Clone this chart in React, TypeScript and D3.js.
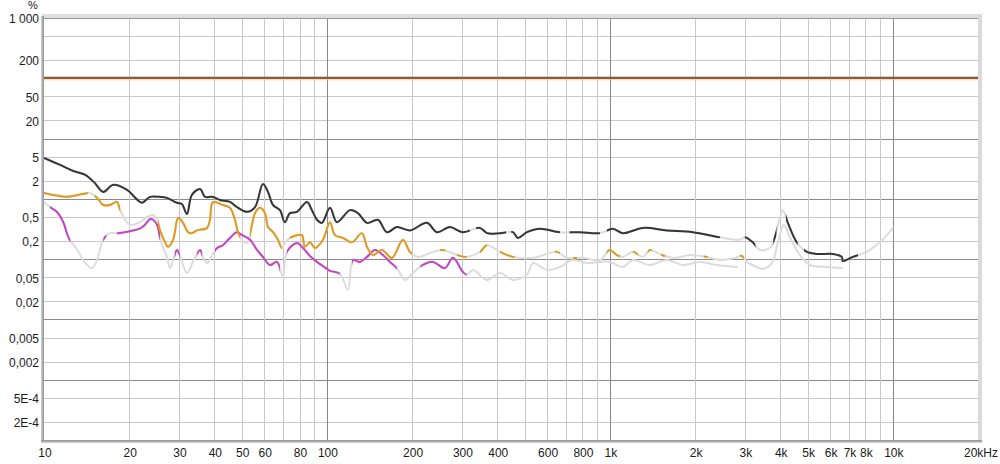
import * as React from "react";
import * as d3 from "d3";

// THD (black)
const thdFreq = [10, 11.4, 12.7, 14.0, 15.1, 16.2, 17.5, 19.65, 21.3, 22.2, 23.7, 25.7, 27.2, 29.5, 30.7, 32.0, 33.3, 35.6, 37.1, 39.3, 41.9, 45.4, 48.1, 52.2, 55.7, 59.4, 61.9, 64.5, 68.2, 71.0, 74.0, 78.4, 85.0, 88.5, 92.2, 96.0, 102.5, 108.5, 120.6, 128.7, 138.5, 151.4, 162.9, 176.7, 196.5, 225.6, 244.7, 272, 302, 347, 368, 409, 454, 473, 509, 566, 666, 783, 922, 1025, 1111, 1308, 1590, 1965, 2447, 2880, 2999, 3200, 3388, 3676, 3828, 4087, 4256, 4578, 4968, 5388, 6137, 6604, 6658, 7222, 8091, 8995, 9524, 10000];
const thdPct = [4.77, 3.65, 2.9, 2.49, 1.84, 1.3, 1.7, 1.41, 0.98, 0.86, 1.08, 1.08, 1.04, 0.86, 0.82, 0.56, 1.16, 1.46, 1.08, 1.08, 0.96, 0.89, 0.73, 0.61, 0.73, 1.77, 1.3, 0.79, 0.65, 0.41, 0.58, 0.61, 0.89, 0.65, 0.45, 0.4, 0.71, 0.41, 0.65, 0.58, 0.4, 0.45, 0.28, 0.34, 0.3, 0.4, 0.28, 0.34, 0.28, 0.33, 0.27, 0.27, 0.28, 0.225, 0.28, 0.32, 0.28, 0.28, 0.27, 0.32, 0.27, 0.33, 0.3, 0.28, 0.23, 0.21, 0.23, 0.19, 0.142, 0.153, 0.23, 0.65, 0.4, 0.19, 0.132, 0.122, 0.122, 0.109, 0.093, 0.109, 0.132, 0.19, 0.25, 0.33];
const thdOn = [[10, 320], [337, 430], [448, 666], [720, 922], [976, 2447], [2999, 3270], [3780, 3880], [4190, 4610], [4850, 7530]];

// 2nd harmonic (orange)
const h2Freq = [10, 10.8, 12.1, 13.7, 14.5, 15.4, 16.2, 17.1, 18.1, 18.6, 20.1, 21.8, 23.1, 24.3, 25.1, 25.7, 26.8, 27.4, 28.6, 29.8, 31.0, 32.3, 33.3, 34.7, 37.7, 38.6, 39.3, 40.2, 42.9, 45.4, 47.3, 48.5, 50.1, 52.2, 54.3, 55.7, 58.0, 60.4, 61.9, 64.5, 67.1, 69.3, 71.0, 74.0, 78.4, 81.6, 83.6, 87.1, 90.7, 96.8, 102.5, 106.7, 113.9, 122.6, 132.9, 138.5, 145.4, 156.4, 169.7, 185.6, 196.5, 209.7, 236.9, 257, 288, 312, 347, 368, 409, 454, 535, 650, 705, 803, 922, 1000, 1059, 1111, 1206, 1308, 1385, 1527, 1697, 1918, 2202, 2447, 2765, 2927, 3049, 3307, 3472, 3736, 3925, 4120, 4325, 4692, 5089, 5846, 6658];
const h2Pct = [1.25, 1.16, 1.08, 1.2, 1.25, 1.04, 0.79, 0.79, 0.89, 0.65, 0.37, 0.41, 0.5, 0.54, 0.45, 0.3, 0.19, 0.16, 0.21, 0.48, 0.4, 0.28, 0.27, 0.3, 0.33, 0.45, 0.86, 0.89, 0.79, 0.71, 0.45, 0.28, 0.21, 0.186, 0.37, 0.58, 0.71, 0.58, 0.34, 0.28, 0.21, 0.153, 0.186, 0.225, 0.25, 0.25, 0.16, 0.19, 0.153, 0.21, 0.41, 0.25, 0.225, 0.19, 0.27, 0.16, 0.117, 0.142, 0.105, 0.21, 0.132, 0.109, 0.132, 0.142, 0.117, 0.109, 0.132, 0.17, 0.132, 0.109, 0.105, 0.132, 0.105, 0.105, 0.097, 0.142, 0.117, 0.109, 0.132, 0.109, 0.142, 0.117, 0.105, 0.117, 0.109, 0.097, 0.105, 0.113, 0.09, 0.074, 0.069, 0.086, 0.19, 0.37, 0.23, 0.117, 0.08, 0.074, 0.071];
const h2On = [[10, 14.3], [15.1, 18.6], [25.3, 49.3], [53.5, 69.3], [74, 200], [251, 262], [288, 312], [347, 368], [409, 461], [640, 666], [740, 766], [976, 1085], [1206, 1259], [1361, 1408], [1518, 1568], [2146, 2218], [2880, 2976]];

// 3rd harmonic (magenta)
const h3Freq = [10, 10.5, 11.1, 11.7, 12.2, 13.1, 14.0, 14.8, 15.4, 16.0, 16.4, 17.1, 18.3, 20.1, 21.8, 22.7, 23.7, 24.3, 25.1, 25.7, 26.3, 27.2, 27.9, 28.6, 29.5, 30.2, 32.0, 33.6, 35.6, 36.5, 37.7, 39.3, 40.9, 42.9, 45.4, 48.1, 50.1, 53.5, 56.6, 59.4, 62.9, 66.6, 69.9, 72.2, 78.4, 82.3, 87.1, 92.2, 96.8, 102.5, 111.2, 118.6, 123.6, 130.8, 138.5, 147.8, 157.7, 167.0, 176.7, 188.7, 201.3, 218.4, 236.9, 261.2, 278.8, 302.4, 312.4, 328.1, 367.6, 408.7, 454.3, 508.8, 534.6, 598.9, 665.8, 740, 829.3, 921.9, 1000, 1111, 1206, 1385, 1590, 1811, 2080, 2388, 2834];
const h3Pct = [0.89, 0.73, 0.61, 0.41, 0.23, 0.142, 0.086, 0.071, 0.097, 0.186, 0.23, 0.27, 0.27, 0.29, 0.32, 0.37, 0.46, 0.45, 0.37, 0.23, 0.16, 0.109, 0.071, 0.097, 0.142, 0.117, 0.059, 0.09, 0.142, 0.109, 0.086, 0.117, 0.153, 0.17, 0.225, 0.28, 0.25, 0.21, 0.142, 0.109, 0.08, 0.09, 0.051, 0.132, 0.186, 0.153, 0.113, 0.09, 0.077, 0.064, 0.057, 0.031, 0.097, 0.09, 0.109, 0.142, 0.117, 0.09, 0.071, 0.045, 0.059, 0.08, 0.09, 0.071, 0.105, 0.061, 0.055, 0.066, 0.045, 0.059, 0.045, 0.055, 0.086, 0.066, 0.074, 0.097, 0.086, 0.09, 0.09, 0.074, 0.097, 0.08, 0.097, 0.08, 0.09, 0.08, 0.074];
const h3On = [[10.5, 12.4], [16.2, 16.6], [18.1, 25.7], [29, 30.2], [34.7, 36.2], [40.2, 68.2], [72.2, 111], [122.6, 176.7], [214, 312]];

// fundamental reference level
const refLevel = 100;

const yTickValues = [1000, 200, 50, 20, 5, 2, 0.5, 0.2, 0.05, 0.02, 0.005, 0.002, 5e-4, 2e-4];
const yTickLabels = ["1 000", "200", "50", "20", "5", "2", "0,5", "0,2", "0,05", "0,02", "0,005", "0,002", "5E-4", "2E-4"];
const xTickValues = [10, 20, 30, 40, 50, 60, 80, 100, 200, 300, 400, 600, 800, 1000, 2000, 3000, 4000, 5000, 6000, 7000, 8000, 10000, 20000];
const xTickLabels = ["10", "20", "30", "40", "50", "60", "80", "100", "200", "300", "400", "600", "800", "1k", "2k", "3k", "4k", "5k", "6k", "7k", "8k", "10k", "20kHz"];

const series = [
  { id: "h3", freq: h3Freq, pct: h3Pct, on: h3On, color: "#c444c4" },
  { id: "h2", freq: h2Freq, pct: h2Pct, on: h2On, color: "#e29a1c" },
  { id: "thd", freq: thdFreq, pct: thdPct, on: thdOn, color: "#363636" },
];

export default function App() {
  const width = 1000;
  const height = 464;
  const left = 44;
  const right = 978;
  const top = 18;
  const bottom = 440;

  const x = d3.scaleLog().domain([10, 20000]).range([left, right]);
  const y = d3.scaleLog().domain([1e-4, 1000]).range([bottom, top]);

  const yGrid: { v: number; major: boolean }[] = [];
  for (let e = -4; e <= 3; e++) {
    [1, 2, 5].forEach((k) => {
      const v = k * Math.pow(10, e);
      if (v > 1e-4 * 1.001 && v < 1000 * 0.999) yGrid.push({ v, major: k === 1 });
    });
  }
  const xGrid: { v: number; major: boolean }[] = [];
  for (let e = 1; e <= 4; e++) {
    for (let k = 1; k <= 9; k++) {
      const v = k * Math.pow(10, e);
      if (v > 10 && v < 20000) xGrid.push({ v, major: k === 1 });
    }
  }

  const line = d3
    .line<[number, number]>()
    .x((d) => x(d[0]))
    .y((d) => y(d[1]))
    .curve(d3.curveCatmullRom.alpha(0.5));

  const font = "'Liberation Sans', Arial, sans-serif";

  return (
    <svg
      width={width}
      height={height}
      style={{ position: "absolute", left: 0, top: 0, background: "#fff" }}
    >
      <defs>
        <clipPath id="plot">
          <rect x={left} y={top} width={right - left} height={bottom - top} />
        </clipPath>
        {series.map((s) => (
          <clipPath id={`on-${s.id}`} key={s.id}>
            {s.on.map(([a, b], i) => (
              <rect key={i} x={x(a)} y={top} width={x(b) - x(a)} height={bottom - top} />
            ))}
          </clipPath>
        ))}
        <linearGradient id="leftEdge" x1="0" x2="1" y1="0" y2="0">
          <stop offset="0" stopColor="#d6d6d6" />
          <stop offset="1" stopColor="#8e8e8e" />
        </linearGradient>
        <linearGradient id="bottomEdge" x1="0" x2="0" y1="0" y2="1">
          <stop offset="0" stopColor="#8e8e8e" />
          <stop offset="1" stopColor="#d6d6d6" />
        </linearGradient>
      </defs>

      {/* frame */}
      <rect x={left - 2} y={top - 4} width={right - left + 6} height={4} fill="#dedede" />
      <rect x={right} y={top - 4} width={4} height={bottom - top + 6} fill="#dadada" />
      <rect x={left} y={top} width={right - left} height={bottom - top} fill="#fff" />

      {/* grid */}
      <g shapeRendering="crispEdges">
        {yGrid.map((g, i) => (
          <line
            key={`y${i}`}
            x1={left}
            x2={right}
            y1={Math.round(y(g.v)) + 0.5}
            y2={Math.round(y(g.v)) + 0.5}
            stroke={g.major ? "#8a8a8a" : "#c8c8c8"}
          />
        ))}
        {xGrid.map((g, i) => (
          <line
            key={`x${i}`}
            y1={top}
            y2={bottom}
            x1={Math.round(x(g.v)) + 0.5}
            x2={Math.round(x(g.v)) + 0.5}
            stroke={g.major ? "#8a8a8a" : "#c8c8c8"}
          />
        ))}
        <line x1={left} x2={right} y1={top + 0.5} y2={top + 0.5} stroke="#9a9a9a" />
      </g>

      {/* reference level */}
      <g clipPath="url(#plot)">
        <line x1={left} x2={right} y1={y(refLevel) - 0.5} y2={y(refLevel) - 0.5} stroke="#8a5430" strokeWidth={2} />
        <line x1={left} x2={right} y1={y(refLevel) + 1.5} y2={y(refLevel) + 1.5} stroke="#f3c7a0" strokeWidth={1} />
      </g>

      {/* curves: grey where unreliable, coloured elsewhere */}
      <g clipPath="url(#plot)" fill="none" strokeWidth={2} strokeLinejoin="round">
        {series.map((s) => (
          <path
            key={`g-${s.id}`}
            d={line(s.freq.map((f, i) => [f, s.pct[i]] as [number, number])) ?? ""}
            stroke="#dcdcdc"
          />
        ))}
        {series.map((s) => (
          <path
            key={`c-${s.id}`}
            d={line(s.freq.map((f, i) => [f, s.pct[i]] as [number, number])) ?? ""}
            stroke={s.color}
            clipPath={`url(#on-${s.id})`}
          />
        ))}
      </g>

      {/* left / bottom shaded edges */}
      <rect x={left - 3} y={top - 2} width={3} height={bottom - top + 5} fill="url(#leftEdge)" />
      <rect x={left - 3} y={bottom} width={right - left + 7} height={3} fill="url(#bottomEdge)" />

      {/* y labels */}
      <g fontFamily={font} fontSize={12} fill="#1a1a1a" textAnchor="end">
        <text x={33} y={9} fontSize={11} textAnchor="middle">%</text>
        {yTickValues.map((v, i) => (
          <text key={i} x={39} y={y(v) + 1} dy="0.36em">
            {yTickLabels[i]}
          </text>
        ))}
      </g>

      {/* x labels */}
      <g fontFamily={font} fontSize={12} fill="#1a1a1a" textAnchor="middle">
        {xTickValues.map((v, i) => (
          <text key={i} x={x(v) + (i === xTickValues.length - 1 ? 3 : 1)} y={457}>
            {xTickLabels[i]}
          </text>
        ))}
      </g>
    </svg>
  );
}
